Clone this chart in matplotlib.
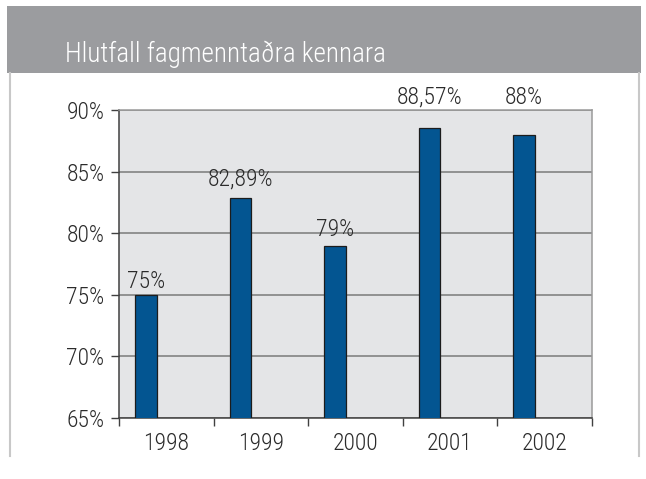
import matplotlib
matplotlib.use("Agg")
import matplotlib.pyplot as plt
from matplotlib.patches import Rectangle
from matplotlib.lines import Line2D
from matplotlib.ticker import FixedLocator, NullFormatter

years = ["1998", "1999", "2000", "2001", "2002"]
values = [75.0, 82.89, 79.0, 88.57, 88.0]
value_labels = ["75%", "82,89%", "79%", "88,57%", "88%"]
y_ticks = [65, 70, 75, 80, 85, 90]
y_tick_labels = ["65%", "70%", "75%", "80%", "85%", "90%"]
title = "Hlutfall fagmenntaðra kennara"

FONT = ["Roboto Condensed", "DejaVu Sans"]
plt.rcParams['font.family'] = FONT
plt.rcParams['font.weight'] = 300
TXT = "#2b2b2b"
FS = 17

W, H = 646, 479
fig = plt.figure(figsize=(W / 100, H / 100), dpi=100)
fig.patch.set_facecolor("white")

# header band
fig.patches.append(Rectangle((7 / W, 1 - 73 / H), (641 - 7) / W, (73 - 6) / H,
                             transform=fig.transFigure, facecolor="#9b9c9f",
                             edgecolor="none", zorder=0))
fig.text(65 / W, 1 - 62 / H, title, color="white", fontsize=19.5,
         va="baseline", ha="left", fontweight=300)
# frame lines
fig.add_artist(Line2D([10 / W, 10 / W], [1 - 73 / H, 1 - 456 / H],
                      transform=fig.transFigure, color="#c8c8c8", lw=1.5))
fig.add_artist(Line2D([639 / W, 639 / W], [1 - 73 / H, 1 - 456 / H],
                      transform=fig.transFigure, color="#c8c8c8", lw=1.5))

ax = fig.add_axes([119 / W, 1 - 418 / H, (592 - 119) / W, (418 - 110) / H])
ax.set_facecolor("#e4e5e7")

xs = list(range(len(years)))
bar_x = [x - 0.217 for x in xs]
ax.bar(bar_x, values, width=0.227, bottom=0, color="#035591",
       edgecolor="#1c1c1c", linewidth=0.9, zorder=3)
ax.set_ylim(65, 90)
ax.set_xlim(-0.5, len(years) - 0.5)

ax.set_yticks(y_ticks)
ax.set_yticklabels(y_tick_labels, fontsize=FS, color=TXT)
ax.yaxis.grid(True, color="#7a7a7a", linewidth=1.1, zorder=1)
ax.set_axisbelow(True)

ax.set_xticks(xs)
ax.set_xticklabels(years, fontsize=FS, color=TXT)
ax.xaxis.set_minor_locator(FixedLocator([x - 0.5 for x in xs] + [len(years) - 0.5]))
ax.xaxis.set_minor_formatter(NullFormatter())
ax.tick_params(axis="x", which="major", length=0, pad=10)
ax.tick_params(axis="x", which="minor", length=6, width=1, color="#404040")
ax.tick_params(axis="y", length=6, width=1, color="#404040", pad=4.5)

for s in ["left", "bottom"]:
    ax.spines[s].set_color("#404040")
    ax.spines[s].set_linewidth(1.1)
for s in ["top", "right"]:
    ax.spines[s].set_color("#9a9a9a")
    ax.spines[s].set_linewidth(1.1)

label_offsets_pt = [9.9, 13.4, 11.5, 22.0, 26.6]
for bx, v, lab, off in zip(bar_x, values, value_labels, label_offsets_pt):
    ax.annotate(lab, (bx, v), xytext=(0, off), textcoords="offset points",
                ha="center", va="center", fontsize=FS, color=TXT,
                annotation_clip=False)

fig.savefig("out.png", dpi=100)
